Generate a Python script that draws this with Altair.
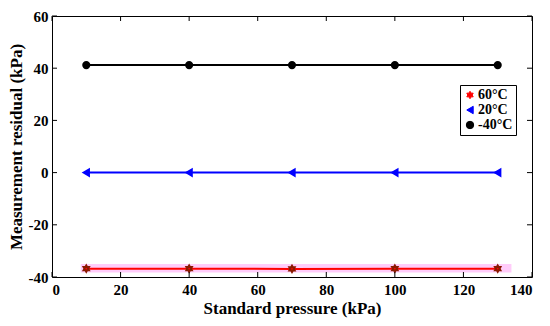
import altair as alt
import pandas as pd

pressure = [10, 40, 70, 100, 130]
res_60 = [-36.8, -36.8, -36.9, -36.8, -36.8]
res_20 = [0.0, 0.0, 0.0, 0.0, 0.0]
res_m40 = [41.2, 41.2, 41.2, 41.2, 41.2]
series = ["60°C", "20°C", "-40°C"]
colors = ["#ff0000", "#0000ff", "#000000"]
edge_colors = ["#8b1a00", "#0000ff", "#000000"]
band_x = [8.4, 134]
band_y = [-38.3, -35.0]
x_ticks = [0, 20, 40, 60, 80, 100, 120, 140]
y_ticks = [-40, -20, 0, 20, 40, 60]

rows = []
for s, vals in zip(series, [res_60, res_20, res_m40]):
    for p, v in zip(pressure, vals):
        rows.append({"p": p, "r": v, "s": s})
df = pd.DataFrame(rows)

W, H = 480, 261
FONT = "'Liberation Serif', 'Times New Roman', serif"

hexagram = "M0,-1L0.289,-0.5L0.866,-0.5L0.577,0L0.866,0.5L0.289,0.5L0,1L-0.289,0.5L-0.866,0.5L-0.577,0L-0.866,-0.5L-0.289,-0.5Z"

xs = alt.Scale(domain=[0, 140], nice=False)
ys = alt.Scale(domain=[-40, 60], nice=False)
cs = alt.Scale(domain=series, range=colors)
ss = alt.Scale(domain=series, range=[hexagram, "triangle-left", "circle"])

legend = alt.Legend(
    title=None, orient="none", legendX=408, legendY=69,
    labelFont=FONT, labelFontWeight="bold", labelFontSize=14, labelColor="black",
    strokeColor="black", padding=3, rowPadding=1, symbolSize=55,
    symbolStrokeWidth=1, fillColor="white", cornerRadius=0, labelOffset=1)

xaxis = alt.Axis(values=x_ticks, ticks=False, grid=False, domain=False,
                 labelFont=FONT, labelFontWeight="bold", labelFontSize=15, labelColor="black",
                 labelPadding=5, title="Standard pressure (kPa)", titleFont=FONT,
                 titleFontWeight="bold", titleFontSize=17, titleColor="black", titlePadding=3)
yaxis = alt.Axis(values=y_ticks, ticks=False, grid=False, domain=False,
                 labelExpr="toString(datum.value)",
                 labelFont=FONT, labelFontWeight="bold", labelFontSize=15, labelColor="black",
                 labelPadding=4, title="Measurement residual (kPa)", titleFont=FONT,
                 titleFontWeight="bold", titleFontSize=17, titleColor="black", titlePadding=3)

band = alt.Chart(pd.DataFrame({"x": [band_x[0]], "x2": [band_x[1]], "y": [band_y[0]], "y2": [band_y[1]]})).mark_rect(
    color="#ff55ee", opacity=0.3
).encode(
    x=alt.X("x:Q", scale=xs, axis=xaxis), x2="x2:Q",
    y=alt.Y("y:Q", scale=ys, axis=yaxis), y2="y2:Q",
)

lines = alt.Chart(df).mark_line(strokeWidth=2).encode(
    x=alt.X("p:Q", scale=xs),
    y=alt.Y("r:Q", scale=ys),
    color=alt.Color("s:N", scale=cs, legend=legend),
    detail="s:N",
)

points = alt.Chart(df).mark_point(filled=True, size=38, opacity=1).encode(
    x=alt.X("p:Q", scale=xs),
    y=alt.Y("r:Q", scale=ys),
    color=alt.Color("s:N", scale=cs, legend=legend),
    shape=alt.Shape("s:N", scale=ss, legend=legend),
    stroke=alt.Stroke("s:N", scale=alt.Scale(domain=series, range=edge_colors), legend=None),
)

# inner tick marks on all sides
xt = pd.DataFrame({"v": x_ticks})
yt = pd.DataFrame({"v": y_ticks})
tb = alt.Chart(xt).mark_rule(color="black", strokeWidth=1).encode(
    x=alt.X("v:Q", scale=xs), y=alt.value(H), y2=alt.value(H - 5))
tt = alt.Chart(xt).mark_rule(color="black", strokeWidth=1).encode(
    x=alt.X("v:Q", scale=xs), y=alt.value(0), y2=alt.value(5))
tl = alt.Chart(yt).mark_rule(color="black", strokeWidth=1).encode(
    y=alt.Y("v:Q", scale=ys), x=alt.value(0), x2=alt.value(5))
tr = alt.Chart(yt).mark_rule(color="black", strokeWidth=1).encode(
    y=alt.Y("v:Q", scale=ys), x=alt.value(W), x2=alt.value(W - 5))

chart = alt.layer(band, lines, points, tb, tt, tl, tr).properties(
    width=W, height=H,
    autosize=alt.AutoSizeParams(type="none"),
    padding={"left": 44, "top": 8, "right": 10, "bottom": 41},
    background="white",
).configure_view(stroke="black", strokeWidth=1)

chart.save("out.html", embed_options={"renderer": "svg", "actions": False})
